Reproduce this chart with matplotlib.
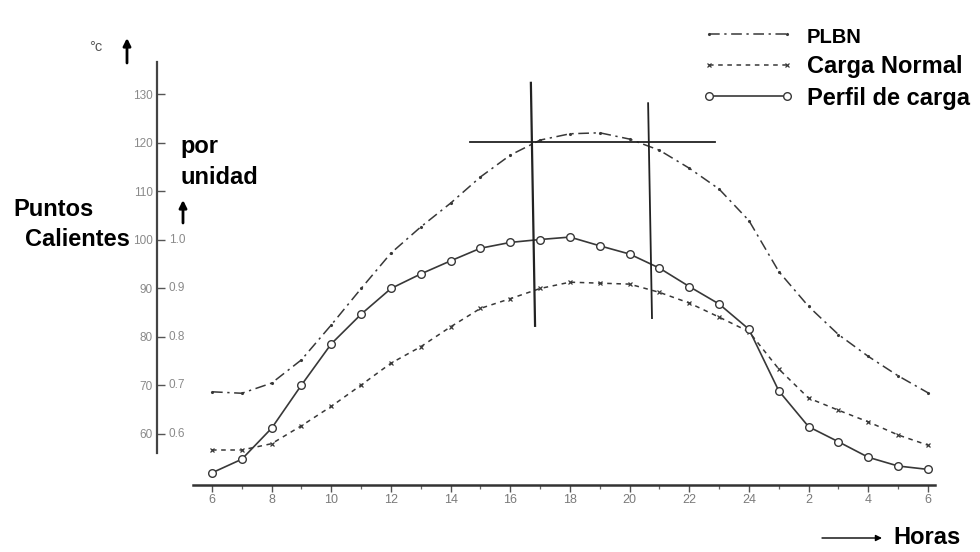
import matplotlib
matplotlib.use("Agg")
import matplotlib.pyplot as plt

plt.rcParams['font.family'] = ['Liberation Sans', 'DejaVu Sans']

# ---------------- data ----------------
hours = list(range(6, 31))  # 6 h of day 1 ... 6 h of next day (30)

plbn = [68.7, 68.4, 70.5, 75.3, 82.5, 90.0, 97.3, 102.7, 107.6, 113.0,
        117.5, 120.6, 121.9, 122.1, 120.8, 118.5, 114.8, 110.5, 104.0, 93.5,
        86.3, 80.5, 76.0, 72.0, 68.5]

carga_normal = [56.7, 56.7, 58.0, 61.7, 65.7, 70.1, 74.6, 78.0, 82.1, 85.9,
                87.9, 90.0, 91.3, 91.1, 90.9, 89.2, 87.0, 84.1, 81.1, 73.4,
                67.4, 64.9, 62.5, 59.8, 57.7]

perfil = [52.0, 54.8, 61.2, 70.1, 78.6, 84.7, 90.0, 93.0, 95.7, 98.3,
          99.5, 100.1, 100.6, 98.8, 97.1, 94.2, 90.4, 86.8, 81.6, 68.9,
          61.5, 58.4, 55.2, 53.4, 52.7]

series_labels = ['PLBN', 'Carga Normal', 'Perfil de carga']

x_tick_hours = [6, 8, 10, 12, 14, 16, 18, 20, 22, 24, 26, 28, 30]
x_tick_labels = ['6', '8', '10', '12', '14', '16', '18', '20', '22', '24', '2', '4', '6']

y_ticks_c = [60, 70, 80, 90, 100, 110, 120, 130]
y_ticks_pu_pos = [60, 70, 80, 90, 100]
y_ticks_pu_labels = ['0.6', '0.7', '0.8', '0.9', '1.0']

# cross-hair lines drawn on the original figure
cross_h_x = [14.65, 22.86]
cross_h_y = [120.3, 120.3]
cross_v1_x = [16.69, 16.83]
cross_v1_y = [132.4, 82.3]
cross_v2_x = [20.62, 20.75]
cross_v2_y = [128.2, 83.9]

# ---------------- figure ----------------
W, H = 980, 552
fig = plt.figure(figsize=(W / 100, H / 100), dpi=100)
ax = fig.add_axes([0, 0, 1, 1])
ax.set_xlim(-1.107, 31.746)
ax.set_ylim(35.67, 149.48)
ax.patch.set_alpha(0)


def fx(x):
    return x / W


def fy(y):
    return 1 - y / H


line_col = '#383838'

l1, = ax.plot(hours, plbn, color=line_col, lw=1.1,
              linestyle=(0, (7, 3, 1.5, 3)), marker='.', markersize=2.5,
              label=series_labels[0])
l2, = ax.plot(hours, carga_normal, color=line_col, lw=1.1,
              linestyle=(0, (3, 3)), marker='x', markersize=3, mew=0.9,
              label=series_labels[1])
l3, = ax.plot(hours, perfil, color=line_col, lw=1.2, linestyle='-',
              marker='o', markersize=5.5, markerfacecolor='white',
              markeredgecolor=line_col, mew=1.0, label=series_labels[2])

ax.plot(cross_h_x, cross_h_y, color='#222222', lw=1.3)
ax.plot(cross_v1_x, cross_v1_y, color='#222222', lw=1.6)
ax.plot(cross_v2_x, cross_v2_y, color='#222222', lw=1.3)

# ---------------- axes lines & ticks ----------------
for s in ['top', 'right']:
    ax.spines[s].set_visible(False)
ax.spines['left'].set_position(('data', 4.16))
ax.spines['left'].set_bounds(56.1, 136.7)
ax.spines['left'].set_color('#444444')
ax.spines['left'].set_linewidth(1.6)
ax.spines['bottom'].set_position(('data', 49.5))
ax.spines['bottom'].set_bounds(5.36, 30.24)
ax.spines['bottom'].set_color('#333333')
ax.spines['bottom'].set_linewidth(1.8)

ax.set_yticks(y_ticks_c)
ax.set_yticklabels([str(v) for v in y_ticks_c])
ax.tick_params(axis='y', direction='in', length=6, width=1.0, color='#555555',
               labelsize=8.5, labelcolor='#8a8a8a', pad=3)

ax.set_xticks(x_tick_hours)
ax.set_xticklabels(x_tick_labels)
ax.set_xticks(hours, minor=True)
ax.tick_params(axis='x', which='major', direction='out', length=5, width=1.0,
               color='#555555', labelsize=9, labelcolor='#7a7a7a', pad=1.5)
ax.tick_params(axis='x', which='minor', direction='out', length=3, width=0.9,
               color='#666666')

for pos, lab in zip(y_ticks_pu_pos, y_ticks_pu_labels):
    ax.text(4.55, pos, lab, ha='left', va='center', fontsize=8.5,
            color='#8a8a8a')

# ---------------- legend ----------------
leg = ax.legend(handles=[l1, l2, l3], loc='upper left',
                bbox_to_anchor=(fx(702), fy(26)), frameon=False,
                handlelength=3.9, handletextpad=0.55, labelspacing=0.36,
                numpoints=2, prop={'weight': 'bold', 'size': 17},
                borderaxespad=0, borderpad=0)
leg.get_texts()[0].set_fontsize(14.5)

# ---------------- annotations ----------------
bold = dict(fontsize=17, weight='bold', color='black')
fig.text(fx(13), fy(210), 'Puntos', ha='left', va='center', **bold)
fig.text(fx(25), fy(240), 'Calientes', ha='left', va='center', **bold)
fig.text(fx(180), fy(147), 'por', ha='left', va='center', **bold)
fig.text(fx(180), fy(177), 'unidad', ha='left', va='center', **bold)
fig.text(fx(89), fy(47), '°c', ha='left', va='center', fontsize=10.5,
         color='#555555')
fig.text(fx(893), fy(537), 'Horas', ha='left', va='center', **bold)

arrow_kw = dict(arrowstyle='-|>', lw=2.0, color='black', mutation_scale=11,
                shrinkA=0, shrinkB=0)
ax.annotate('', xy=(fx(127), fy(38)), xytext=(fx(127), fy(63)),
            xycoords='figure fraction', textcoords='figure fraction',
            arrowprops=arrow_kw)
ax.annotate('', xy=(fx(183), fy(200)), xytext=(fx(183), fy(223)),
            xycoords='figure fraction', textcoords='figure fraction',
            arrowprops=arrow_kw)
ax.annotate('', xy=(fx(882), fy(538)), xytext=(fx(822), fy(538)),
            xycoords='figure fraction', textcoords='figure fraction',
            arrowprops=dict(arrowstyle='-|>', lw=1.0, color='black',
                            mutation_scale=9, shrinkA=0, shrinkB=0))

fig.savefig('out.png', dpi=100, facecolor='white')
